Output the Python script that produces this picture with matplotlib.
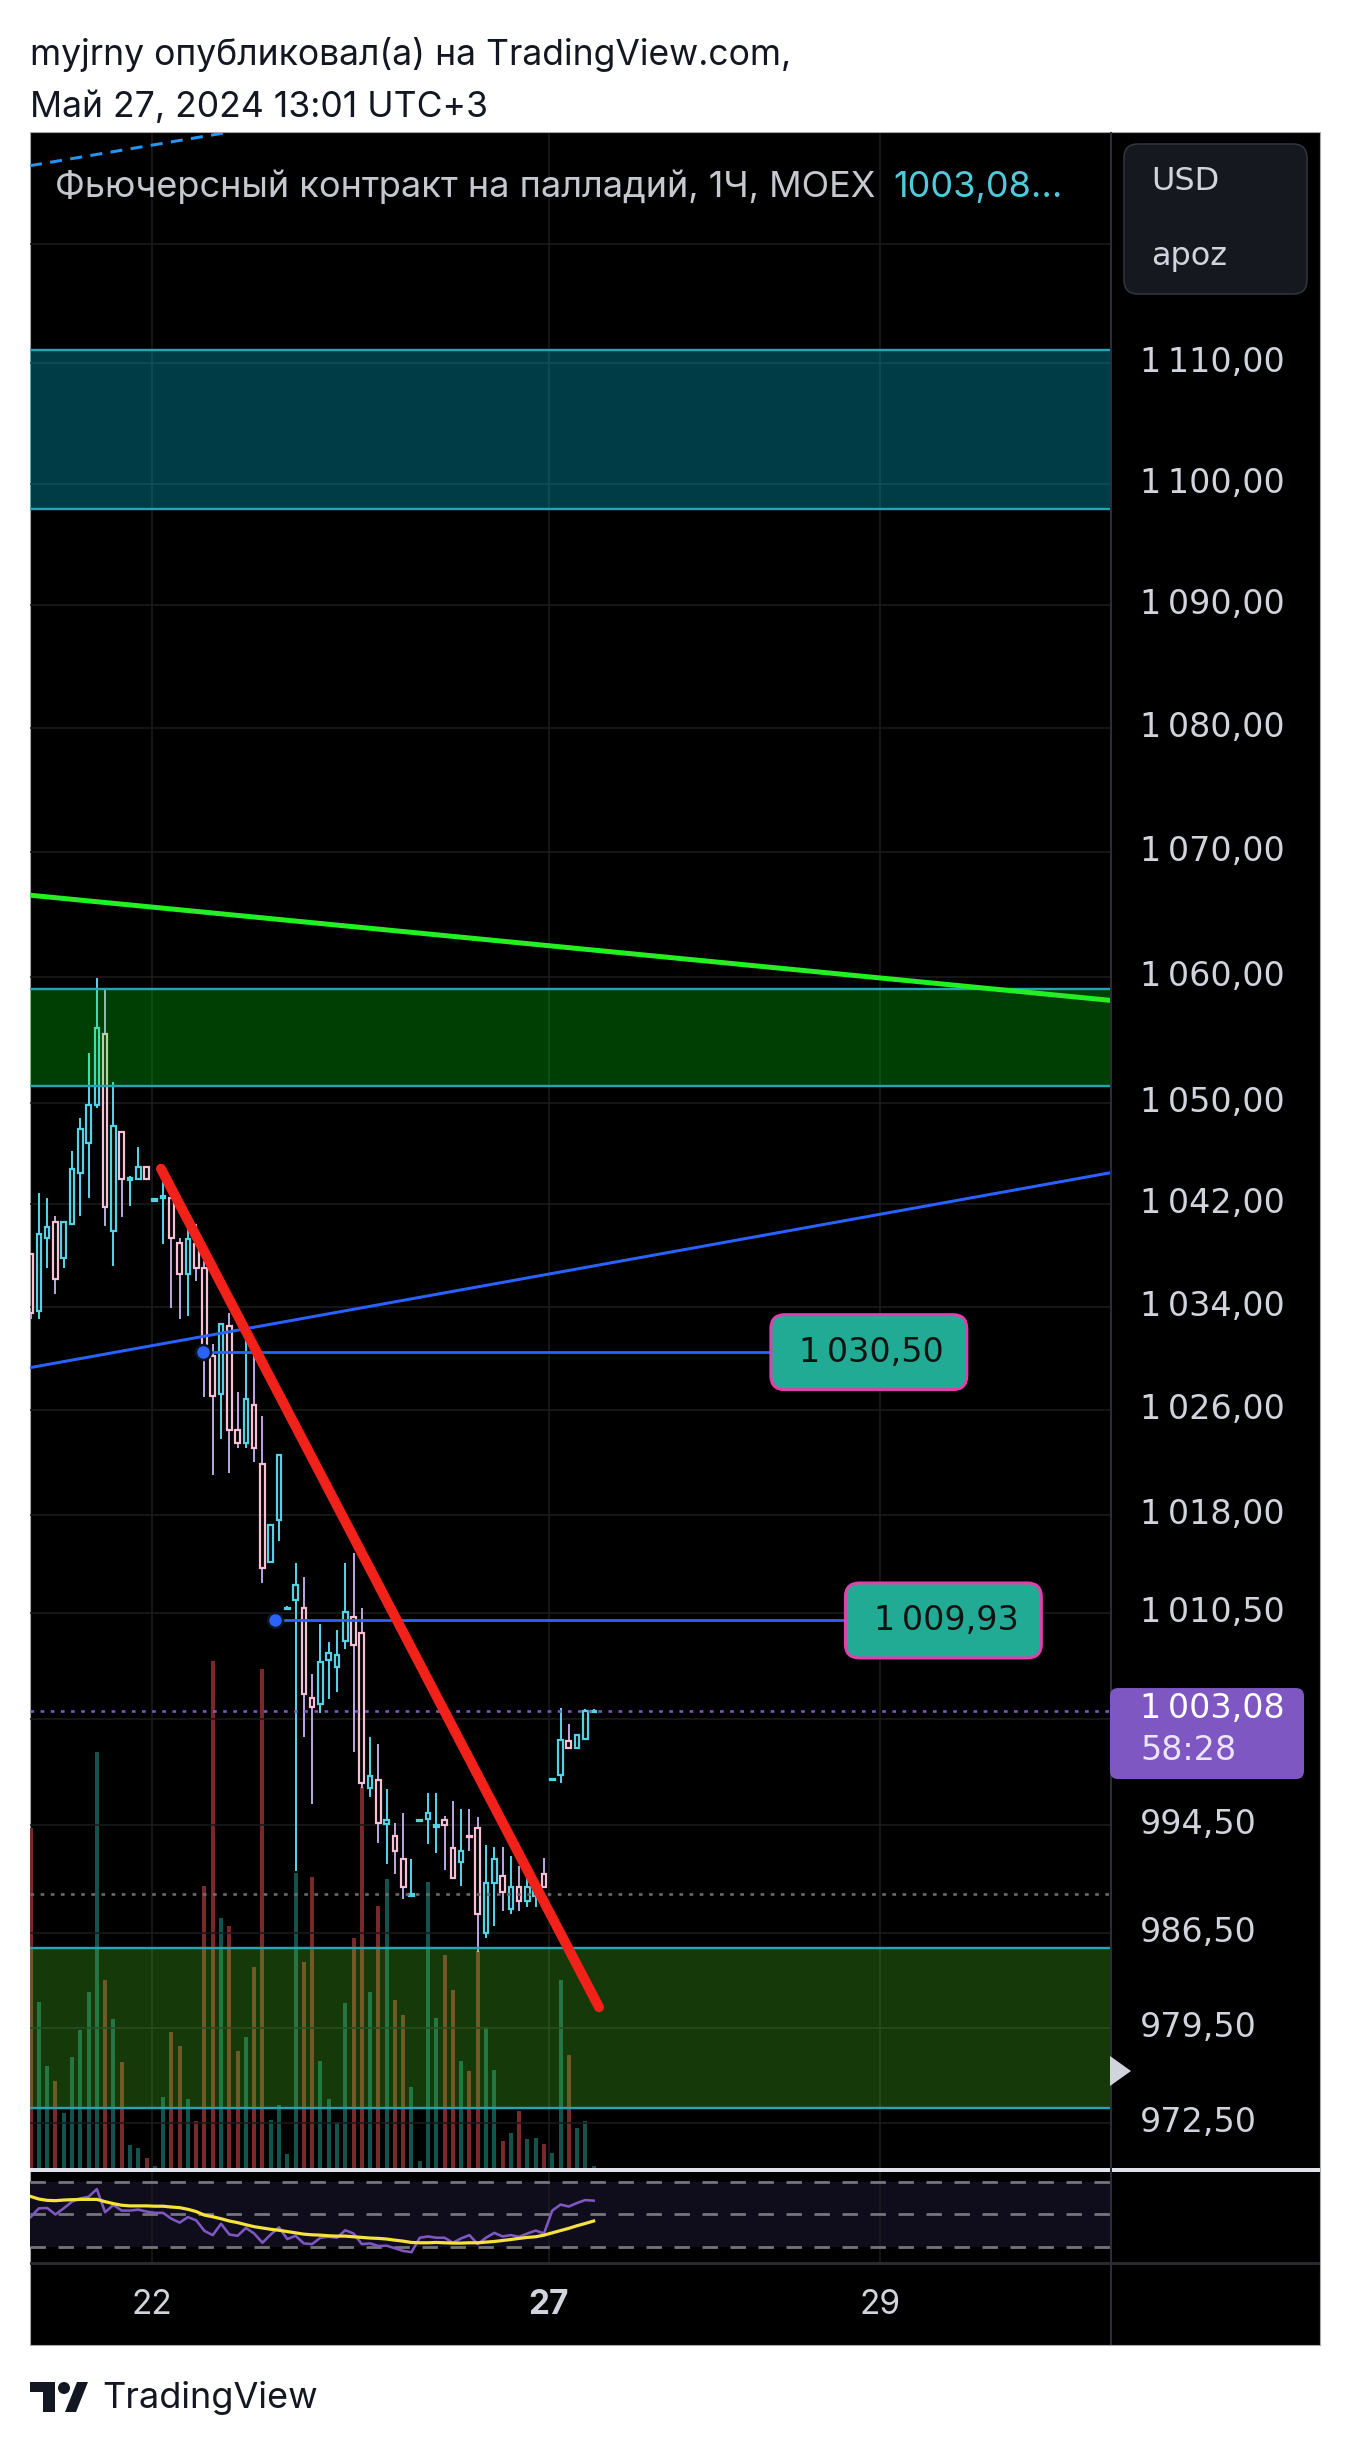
import matplotlib
matplotlib.use("Agg")
import matplotlib.pyplot as plt
import numpy as np
from matplotlib.patches import Rectangle, FancyBboxPatch, Polygon, Circle
from matplotlib.transforms import IdentityTransform, ScaledTranslation
from matplotlib.ticker import FixedLocator, FixedFormatter, NullLocator

plt.rcParams['font.family'] = ['Inter', 'DejaVu Sans']
NUMF = ['DejaVu Sans']

# ---------------- data (hourly candles, MOEX palladium futures) ----------------
opens = [1038.1, 1033.7, 1039.4, 1040.6, 1037.8, 1040.5, 1044.5, 1046.8, 1049.8, 1055.4,
         1039.9, 1047.7, 1043.9, 1044.0, 1044.9, 1042.3, 1042.5, 1042.5, 1039.0, 1036.6,
         1038.9, 1037.0, 1030.2, 1027.3, 1032.5, 1024.5, 1023.5, 1026.4, 1021.9, 1014.4,
         1017.6, 1010.8, 1011.5, 1010.9, 1004.1, 1003.6, 1006.9, 1006.4, 1008.4, 1010.2,
         1009.0, 997.3, 997.9, 994.6, 993.7, 992.0, 989.2, 994.8, 995.0, 994.4,
         994.9, 992.8, 991.8, 993.7, 994.3, 986.5, 990.2, 990.7, 988.3, 989.9,
         988.9, 989.2, 990.9, 997.9, 998.3, 1000.8, 1000.3, 1001.0, 1003.0]
highs = [1038.1, 1042.9, 1042.5, 1041.1, 1040.7, 1046.2, 1048.8, 1053.9, 1059.9, 1059.1,
         1051.6, 1047.8, 1044.2, 1046.5, 1044.9, 1042.5, 1044.1, 1042.5, 1039.4, 1040.5,
         1040.5, 1037.6, 1031.1, 1032.7, 1033.5, 1027.4, 1031.6, 1030.4, 1025.6, 1017.2,
         1022.6, 1011.0, 1014.3, 1013.2, 1005.9, 1009.7, 1008.3, 1009.2, 1014.3, 1015.1,
         1010.9, 1001.1, 1000.6, 997.2, 994.7, 995.4, 992.0, 995.0, 996.9, 996.9,
         995.2, 996.3, 995.7, 995.7, 995.1, 993.0, 992.9, 992.9, 992.2, 991.5,
         990.7, 990.5, 992.1, 998.0, 1003.3, 1002.1, 1001.3, 1003.2, 1003.2]
lows = [1033.1, 1033.1, 1037.0, 1035.0, 1037.0, 1040.5, 1041.1, 1042.5, 1049.6, 1040.3,
        1037.2, 1041.0, 1041.9, 1044.0, 1044.0, 1042.3, 1038.9, 1033.9, 1033.1, 1033.3,
        1036.0, 1027.0, 1021.0, 1023.8, 1021.2, 1023.1, 1023.1, 1022.0, 1012.8, 1014.4,
        1016.0, 1010.8, 991.1, 1001.1, 996.1, 1002.9, 1004.0, 1004.5, 1007.8, 1000.0,
        997.3, 996.6, 993.2, 991.6, 990.9, 989.0, 989.2, 994.8, 993.1, 992.4,
        991.2, 990.5, 990.0, 992.6, 985.1, 986.1, 987.0, 988.1, 987.9, 988.1,
        988.4, 988.4, 989.8, 997.9, 997.7, 1000.3, 1000.2, 1001.0, 1003.0]
closes = [1033.5, 1039.7, 1040.2, 1036.2, 1040.6, 1044.8, 1047.9, 1049.8, 1055.9, 1041.8,
          1048.2, 1044.0, 1044.1, 1044.9, 1044.0, 1042.4, 1042.7, 1039.4, 1036.6, 1039.3,
          1037.0, 1030.4, 1027.1, 1032.7, 1024.5, 1023.5, 1026.9, 1023.1, 1013.9, 1017.2,
          1022.6, 1010.9, 1012.6, 1004.4, 1003.35, 1006.8, 1007.5, 1007.3, 1010.6, 1008.1,
          997.7, 998.2, 994.7, 994.9, 992.6, 989.9, 989.4, 994.9, 995.4, 994.5,
          994.5, 990.6, 992.6, 993.6, 987.9, 990.2, 992.0, 989.5, 989.9, 988.9,
          989.9, 990.2, 989.9, 998.0, 1000.9, 1000.3, 1001.3, 1003.1, 1003.08]
volumes = [995, 485, 300, 255, 160, 325, 405, 515, 1217, 550,
           437, 310, 67, 58, 30, 5, 208, 398, 357, 202,
           137, 825, 1485, 733, 710, 342, 383, 590, 1462, 140,
           185, 40, 865, 602, 853, 313, 202, 135, 483, 675,
           1115, 515, 767, 845, 493, 449, 238, 20, 839, 440,
           625, 520, 313, 285, 635, 413, 287, 80, 103, 167,
           85, 87, 70, 45, 550, 332, 117, 137, 5]
rsi_values = [48.4, 53.8, 54.0, 50.0, 53.8, 57.9, 59.9, 60.9, 65.6, 51.4,
              55.9, 52.4, 52.4, 53.0, 51.8, 51.0, 51.0, 47.4, 45.0, 48.4,
              46.4, 39.9, 37.3, 44.3, 37.7, 36.9, 41.7, 38.3, 32.6, 37.7,
              42.1, 34.9, 36.9, 32.2, 31.8, 35.7, 36.3, 35.7, 40.3, 38.3,
              31.8, 32.2, 30.6, 30.8, 29.2, 27.6, 26.8, 35.7, 36.5, 35.7,
              35.7, 32.6, 35.3, 37.3, 31.8, 35.7, 38.7, 36.5, 37.3, 36.3,
              38.3, 40.1, 38.3, 52.4, 56.1, 54.9, 57.1, 58.9, 58.5]
rsi_ma_values = [61.1, 59.5, 58.7, 58.5, 58.9, 59.1, 59.3, 59.3, 59.3, 57.9,
                 56.7, 55.7, 55.3, 55.3, 55.3, 55.1, 55.1, 54.6, 54.2, 53.2,
                 51.8, 49.6, 48.6, 47.4, 46.0, 45.0, 43.7, 42.5, 41.7, 40.9,
                 40.3, 39.5, 38.7, 37.9, 37.5, 37.3, 36.9, 36.7, 36.7, 36.3,
                 35.9, 35.5, 35.3, 34.9, 34.2, 33.6, 32.8, 32.6, 32.6, 32.8,
                 32.6, 32.4, 32.4, 32.6, 32.6, 33.0, 33.4, 34.0, 34.6, 35.3,
                 35.9, 36.3, 37.3, 38.7, 40.1, 41.5, 43.1, 44.5, 46.0]

price_ticks = [1120, 1110, 1100, 1090, 1080, 1070, 1060, 1050, 1042, 1034, 1026, 1018,
               1010.5, 1002.5, 994.5, 986.5, 979.5, 972.5]
# labels of 1120 and 1002.5 are hidden behind the currency box / last-price label
price_tick_labels = ["", "1\u2009110,00", "1\u2009100,00", "1\u2009090,00", "1\u2009080,00",
                     "1\u2009070,00", "1\u2009060,00", "1\u2009050,00", "1\u2009042,00",
                     "1\u2009034,00", "1\u2009026,00", "1\u2009018,00", "1\u2009010,50", "",
                     "994,50", "986,50", "979,50", "972,50"]
date_positions = [14.7, 62.6, 102.6]
date_labels = ["22", "27", "29"]
rsi_levels = [70, 50, 30]

last_price = 1003.08
countdown = "58:28"
symbol_title = "Фьючерсный контракт на палладий, 1Ч, MOEX"
legend_value = "1003,08..."
header_line1 = "myjrny опубликовал(а) на TradingView.com,"
header_line2 = "Май 27, 2024 13:01 UTC+3"
currency = "USD"
unit = "apoz"
brand = "TradingView"

zone_teal = (1097.9, 1111.1)
zone_green_upper = (1051.3, 1059.0)
zone_green_lower = (973.6, 985.4)
gray_dotted_level = 989.4
green_trend_x, green_trend_y = [-0.07, 130.5], [1066.5, 1058.1]
blue_trend_x, blue_trend_y = [-0.07, 130.5], [1029.3, 1044.5]
red_trend_x, red_trend_y = [15.75, 68.65], [1044.8, 981.0]
dashed_trend_x, dashed_trend_y = [-0.07, 35.0], [1126.6, 1130.75]
hlevels = [1030.50, 1009.93]
hlevel_start = [20.8, 29.5]
hlevel_box_left = [89.4, 98.4]

# ---------------- figure layout ----------------
W, H = 1350, 2451
DPI = 100
PT = 72.0 / DPI
fig = plt.figure(figsize=(W / DPI, H / DPI), dpi=DPI, facecolor='white')
ID = IdentityTransform()


def frect(x0, y0, x1, y1):
    return [x0 / W, 1 - y1 / H, (x1 - x0) / W, (y1 - y0) / H]


def ru(v):
    s = f"{v:,.2f}"
    return s.replace(",", "\u2009").replace(".", ",")


XL = (-0.072, 130.48)
YL = (969.22, 1129.37)
GRID = '#1b1b1d'

# chart background
fig.add_artist(Rectangle((30, H - 2345), 1290, 2213, transform=ID, fc='black',
                         ec='#a8a8a8', lw=0.8, zorder=-5))

x = np.arange(len(opens))
o = np.array(opens); c = np.array(closes); hi = np.array(highs); lo = np.array(lows)
up = c >= o

# volume pane (behind price)
ax_vol = fig.add_axes(frect(30, 133, 1111, 2168))
ax_vol.set_facecolor('black')
vol_colors = np.where(up, '#13534d', '#782a28')
ax_vol.bar(x, volumes, width=0.48, color=vol_colors, linewidth=0)
ax_vol.set_xlim(XL)
ax_vol.set_ylim(0, 5960)
ax_vol.axis('off')

# price pane
ax = fig.add_axes(frect(30, 133, 1111, 2168))
ax.patch.set_visible(False)
ax.set_yscale('log')
ax.set_ylim(YL)
ax.set_xlim(XL)
ax.yaxis.set_major_locator(FixedLocator(price_ticks))
ax.yaxis.set_minor_locator(NullLocator())
ax.yaxis.set_major_formatter(FixedFormatter(price_tick_labels))
ax.yaxis.tick_right()
ax.tick_params(axis='y', length=0, pad=29 * PT, labelsize=24, labelcolor='#d1d4dc')
ax.set_xticks([])
for s in ax.spines.values():
    s.set_visible(False)
lift = ScaledTranslation(0, 4.0 / DPI, fig.dpi_scale_trans)
for lab in ax.yaxis.get_majorticklabels():
    lab.set_fontfamily(NUMF)
    lab.set_transform(lab.get_transform() + lift)

for t in price_ticks:
    ax.axhline(t, color=GRID, lw=1.6 * PT, zorder=0.5)
for d in date_positions:
    ax.axvline(d, color=GRID, lw=1.6 * PT, zorder=0.5)

# candles
UPC, DNC, DNW = '#52d2e4', '#f7bfd3', '#b7a2dc'
bw = 0.56
body_lo = np.minimum(o, c)
body_hi = np.maximum(o, c)
ax.vlines(x, body_hi, hi, colors=np.where(up, UPC, DNW), lw=2.0 * PT, zorder=2)
ax.vlines(x, lo, body_lo, colors=np.where(up, UPC, DNW), lw=2.0 * PT, zorder=2)
for i in range(len(x)):
    ax.add_patch(Rectangle((x[i] - bw / 2, body_lo[i]), bw, body_hi[i] - body_lo[i],
                           fill=False, ec=UPC if up[i] else DNC, lw=2.2 * PT, zorder=2.1))

# zones
ZB = '#27a4b4'
ax.axhspan(*zone_teal, fc=(0.0, 0.62, 0.72), alpha=0.38, lw=0, zorder=3)
ax.axhspan(*zone_green_upper, fc=(0.0, 1.0, 0.05), alpha=0.25, lw=0, zorder=3)
ax.axhspan(*zone_green_lower, fc=(0.33, 0.9, 0.15), alpha=0.25, lw=0, zorder=3)
for z in (zone_teal, zone_green_upper, zone_green_lower):
    for v in z:
        ax.axhline(v, color=ZB, lw=2.4 * PT, zorder=3.2)

# levels
ax.axhline(last_price, color='#7e57c2', lw=2.6 * PT, dashes=(1.4, 2.5), zorder=4)
ax.axhline(gray_dotted_level, color='#6c6c6c', lw=2.6 * PT, dashes=(1.4, 2.5), zorder=4)

# trend lines
ax.plot(green_trend_x, green_trend_y, color='#22f022', lw=5 * PT, zorder=5)
ax.plot(blue_trend_x, blue_trend_y, color='#2962ff', lw=3 * PT, zorder=5)
ax.plot(dashed_trend_x, dashed_trend_y, color='#2196f3', lw=3 * PT, dashes=(4, 2.8), zorder=5)
ax.hlines(hlevels, hlevel_start, hlevel_box_left, color='#2962ff', lw=2.8 * PT, zorder=5)
ax.plot(hlevel_start, hlevels, 'o', ms=15 * PT, mfc='#2962ff', mec='#0e1424', mew=2.5 * PT,
        zorder=6, ls='none')
ax.plot(red_trend_x, red_trend_y, color='#f2221a', lw=10 * PT, solid_capstyle='round', zorder=6)

# RSI pane
ax_rsi = fig.add_axes(frect(30, 2172, 1111, 2262))
ax_rsi.set_facecolor('black')
ax_rsi.set_xlim(XL)
ax_rsi.set_ylim(20.77, 76.15)
ax_rsi.axhspan(rsi_levels[-1], rsi_levels[0], fc='#0f0c1c', lw=0, zorder=0)
for d in date_positions:
    ax_rsi.axvline(d, color=GRID, lw=1.6 * PT, zorder=0.5)
for lv in rsi_levels:
    ax_rsi.axhline(lv, color='#74747c', lw=2.8 * PT, dashes=(5.5, 4.5), zorder=1)
ax_rsi.plot(x, rsi_values, color='#7e57c2', lw=2.6 * PT, zorder=3)
ax_rsi.plot(x, rsi_ma_values, color='#f5e23c', lw=3.2 * PT, zorder=3)
ax_rsi.axis('off')

# time axis pane
ax_time = fig.add_axes(frect(30, 2265, 1111, 2345))
ax_time.set_facecolor('black')
ax_time.set_xlim(XL)
ax_time.set_ylim(0, 1)
for d, lab in zip(date_positions, date_labels):
    ax_time.text(d, 0.5, lab, transform=ax_time.get_xaxis_transform(), ha='center',
                 va='center', fontsize=24, color='#d1d4dc',
                 fontweight='bold' if lab == '27' else 'normal')
ax_time.axis('off')

# separators
fig.add_artist(Rectangle((30, H - 2172), 1290, 4, transform=ID, fc='#e0e3eb', lw=0, zorder=3))
fig.add_artist(Rectangle((30, H - 2265), 1290, 3, transform=ID, fc='#2a2a2e', lw=0, zorder=3))
fig.add_artist(Rectangle((1110, H - 2345), 2, 2213, transform=ID, fc='#2a2e39', lw=0, zorder=3))

# currency box
fig.add_artist(FancyBboxPatch((1124, H - 294), 183, 150, boxstyle='round,pad=0,rounding_size=14',
                              transform=ID, fc='#15181f', ec='#30343d', lw=1.6 * PT, zorder=4))
fig.text(1151, H - 182, currency, transform=ID, va='center', ha='left', fontsize=23,
         color='#d1d4dc', zorder=5, family=NUMF)
fig.text(1151, H - 257, unit, transform=ID, va='center', ha='left', fontsize=23,
         color='#d1d4dc', zorder=5, family=NUMF)

# last price label
yd = ax.transData.transform((0, last_price))[1]
fig.add_artist(FancyBboxPatch((1110, yd - 68), 194, 91, boxstyle='round,pad=0,rounding_size=8',
                              transform=ID, fc='#7e57c2', lw=0, zorder=4))
fig.text(1140, yd + 3, ru(last_price), transform=ID, va='center', ha='left', fontsize=24,
         color='white', zorder=5, family=NUMF)
fig.text(1140, yd - 39, countdown, transform=ID, va='center', ha='left', fontsize=24,
         color='#ece4f8', zorder=5, family=NUMF)

# small marker on price scale
fig.add_artist(Polygon([(1110, H - 2056), (1131, H - 2071), (1110, H - 2086)], closed=True,
                       transform=ID, fc='#d1d4dc', lw=0, zorder=4))

# level labels
for lvl, left in zip(hlevels, hlevel_box_left):
    xd, ydl = ax.transData.transform((left, lvl))
    fig.add_artist(FancyBboxPatch((xd, ydl - 37.5), 196, 75,
                                  boxstyle='round,pad=0,rounding_size=14', transform=ID,
                                  fc='#22ab94', ec='#e23fae', lw=3 * PT, zorder=4))
    fig.text(xd + 101, ydl, ru(lvl), transform=ID, ha='center', va='center', fontsize=24,
             color='#111111', zorder=5, family=NUMF)

# legend
fig.text(55, H - 197, symbol_title, transform=ID, va='baseline', ha='left', fontsize=26,
         color='#c5c8cf', zorder=5)
fig.text(893, H - 197, legend_value, transform=ID, va='baseline', ha='left', fontsize=26,
         color='#4fcadc', zorder=5)

# header
fig.text(30, H - 65, header_line1, transform=ID, va='baseline', ha='left', fontsize=25.6,
         color='#131722')
fig.text(30, H - 117, header_line2, transform=ID, va='baseline', ha='left', fontsize=25.6,
         color='#131722')

# footer logo
LC = '#131722'
fig.add_artist(Rectangle((30, H - 2392), 25, 10, transform=ID, fc=LC, lw=0))
fig.add_artist(Rectangle((43, H - 2412), 12, 30, transform=ID, fc=LC, lw=0))
fig.add_artist(Circle((64, H - 2388), 6, transform=ID, fc=LC, lw=0))
fig.add_artist(Polygon([(65, H - 2412), (76, H - 2412), (88, H - 2382), (77, H - 2382)],
                       closed=True, transform=ID, fc=LC, lw=0))
fig.text(102, H - 2408, brand, transform=ID, va='baseline', ha='left', fontsize=26, color=LC)

fig.savefig('out.png', dpi=DPI, facecolor='white')
